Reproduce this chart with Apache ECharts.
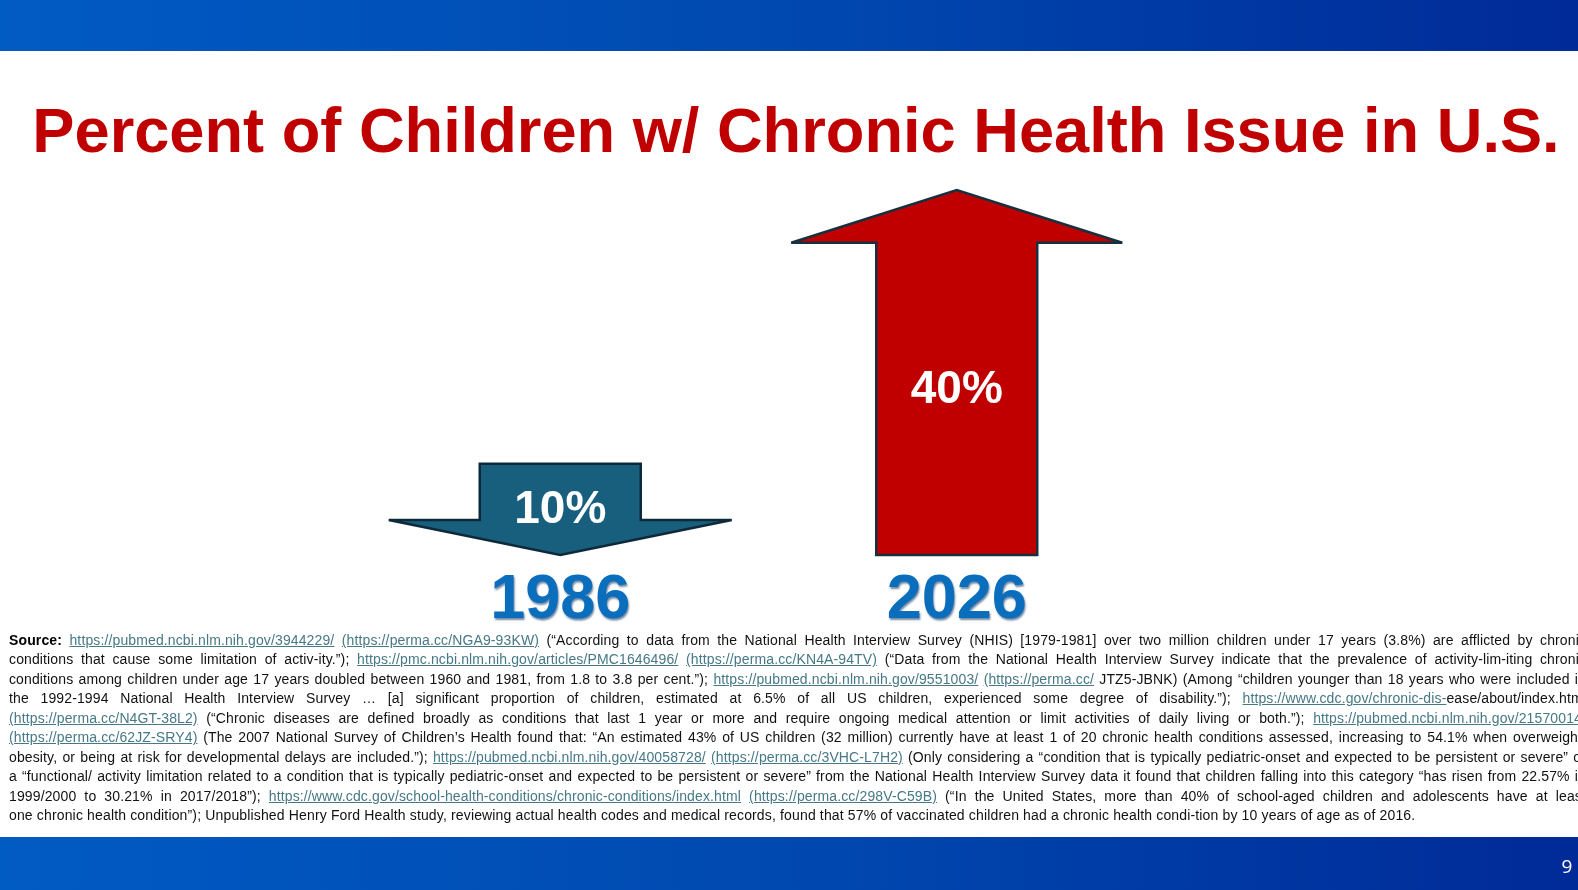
<!DOCTYPE html>
<html>
<head>
<meta charset="utf-8">
<script src="https://cdn.jsdelivr.net/npm/echarts@6/dist/echarts.min.js"></script>
<style>
  html, body { margin: 0; padding: 0; width: 1578px; height: 890px; overflow: hidden; background: #fff; }
  #chart { position: absolute; left: 0; top: 0; width: 1578px; height: 890px; }
  #source { position: absolute; left: 9px; top: 631px; width: 1577px; font-family: "Liberation Sans", Arial, sans-serif; font-size: 14px; letter-spacing: 0.15px; color: #111; }
  #source .ln { height: 19.47px; line-height: 19.47px; overflow: hidden; text-align: justify; text-align-last: justify; white-space: nowrap; }
  #source .ln.last { text-align-last: left; }
  #source a { color: #467886; text-decoration: underline; }
  #source b { color: #000; }
</style>
</head>
<body>
<div id="chart"></div>
<div id="source"></div>
<script>
// ---- data ----
const categories = ['1986', '2026'];
const percentValues = [10, 40];
const directions = ['down', 'up'];
const titleText = 'Percent of Children w/ Chronic Health Issue in U.S.';
const pageNumber = '9';
// source lines: segments [type, text]  (t = plain, l = link, b = bold)
const sourceLines = [
  [['b','Source:'],['t',' '],['l','https://pubmed.ncbi.nlm.nih.gov/3944229/'],['t',' '],['l','(https://perma.cc/NGA9-93KW)'],['t',' (“According to data from the National Health Interview Survey (NHIS) [1979-1981] over two million children under 17 years (3.8%) are afflicted by chronic']],
  [['t','conditions that cause some limitation of activ-ity.”); '],['l','https://pmc.ncbi.nlm.nih.gov/articles/PMC1646496/'],['t',' '],['l','(https://perma.cc/KN4A-94TV)'],['t',' (“Data from the National Health Interview Survey indicate that the prevalence of activity-lim-iting chronic']],
  [['t','conditions among children under age 17 years doubled between 1960 and 1981, from 1.8 to 3.8 per cent.”); '],['l','https://pubmed.ncbi.nlm.nih.gov/9551003/'],['t',' '],['l','(https://perma.cc/'],['t',' JTZ5-JBNK) (Among “children younger than 18 years who were included in']],
  [['t','the 1992-1994 National Health Interview Survey … [a] significant proportion of children, estimated at 6.5% of all US children, experienced some degree of disability.”); '],['l','https://www.cdc.gov/chronic-dis-'],['t','ease/about/index.html']],
  [['l','(https://perma.cc/N4GT-38L2)'],['t',' (“Chronic diseases are defined broadly as conditions that last 1 year or more and require ongoing medical attention or limit activities of daily living or both.”); '],['l','https://pubmed.ncbi.nlm.nih.gov/21570014/']],
  [['l','(https://perma.cc/62JZ-SRY4)'],['t',' (The 2007 National Survey of Children’s Health found that: “An estimated 43% of US children (32 million) currently have at least 1 of 20 chronic health conditions assessed, increasing to 54.1% when overweight,']],
  [['t','obesity, or being at risk for developmental delays are included.”); '],['l','https://pubmed.ncbi.nlm.nih.gov/40058728/'],['t',' '],['l','(https://perma.cc/3VHC-L7H2)'],['t',' (Only considering a “condition that is typically pediatric-onset and expected to be persistent or severe” or']],
  [['t','a “functional/ activity limitation related to a condition that is typically pediatric-onset and expected to be persistent or severe” from the National Health Interview Survey data it found that children falling into this category “has risen from 22.57% in']],
  [['t','1999/2000 to 30.21% in 2017/2018”); '],['l','https://www.cdc.gov/school-health-conditions/chronic-conditions/index.html'],['t',' '],['l','(https://perma.cc/298V-C59B)'],['t',' (“In the United States, more than 40% of school-aged children and adolescents have at least']],
  [['t','one chronic health condition”); Unpublished Henry Ford Health study, reviewing actual health codes and medical records, found that 57% of vaccinated children had a chronic health condi-tion by 10 years of age as of 2016.']]
];

// ---- source text (HTML) ----
const src = document.getElementById('source');
const W = 1577;
const baseLS = 0.15;
sourceLines.forEach(function (segs, i) {
  const d = document.createElement('div');
  d.className = 'ln' + (i === sourceLines.length - 1 ? ' last' : '');
  const inner = document.createElement('span');
  let chars = 0;
  segs.forEach(function (s) {
    let el;
    if (s[0] === 'l') { el = document.createElement('a'); }
    else if (s[0] === 'b') { el = document.createElement('b'); }
    else { el = document.createElement('span'); }
    el.textContent = s[1];
    chars += s[1].length;
    inner.appendChild(el);
  });
  d.appendChild(inner);
  src.appendChild(d);
  const natural = inner.getBoundingClientRect().width;
  if (natural > W - 4) {
    const ls = baseLS - (natural - (W - 6)) / chars;
    d.style.letterSpacing = ls.toFixed(3) + 'px';
  }
  d.style.whiteSpace = 'normal';
});

// ---- chart ----
const chart = echarts.init(document.getElementById('chart'), null, { renderer: 'canvas' });
const barGradient = function () {
  return new echarts.graphic.LinearGradient(0, 0, 1, 0, [
    { offset: 0, color: '#005bc3' },
    { offset: 0.5, color: '#0049b0' },
    { offset: 1, color: '#002a98' }
  ]);
};

const option = {
  animation: false,
  grid: { left: 362, right: 423, top: 190, bottom: 335 },
  xAxis: {
    type: 'category',
    data: categories,
    axisLine: { show: false },
    axisTick: { show: false },
    splitLine: { show: false },
    axisLabel: {
      margin: 14.5,
      color: '#0a6ebd',
      fontSize: 63,
      fontWeight: 'bold',
      fontFamily: '"Liberation Sans", Arial, sans-serif',
      textShadowColor: 'rgba(0,40,90,0.55)',
      textShadowBlur: 2,
      textShadowOffsetX: 1,
      textShadowOffsetY: 2
    }
  },
  yAxis: { type: 'value', min: 0, max: 40, show: false },
  graphic: [
    { type: 'rect', left: 0, top: 0, shape: { width: 1578, height: 51 }, style: { fill: barGradient() }, silent: true },
    { type: 'rect', left: 0, top: 837, shape: { width: 1578, height: 53 }, style: { fill: barGradient() }, silent: true },
    { type: 'text', x: 796, y: 134.5, style: { text: titleText, align: 'center', verticalAlign: 'middle', fill: '#c00000', fontSize: 63.2, fontWeight: 'bold', fontFamily: '"Liberation Sans", Arial, sans-serif' } },
    { type: 'text', x: 1567, y: 868, style: { text: pageNumber, align: 'center', verticalAlign: 'middle', fill: '#ffffff', fontSize: 19, fontFamily: '"Open Sans", sans-serif' } }
  ],
  series: [{
    type: 'custom',
    data: categories.map(function (c, i) { return [i, percentValues[i], directions[i] === 'up' ? 1 : -1]; }),
    encode: { x: 0, y: 1 },
    renderItem: function (params, api) {
      const idx = api.value(0), val = api.value(1), dir = api.value(2);
      const top = api.coord([idx, val]);
      const base = api.coord([idx, 0]);
      const band = api.size([1, 0])[0];
      const cx = base[0];
      const sw = band * 0.406 / 2;
      let pts, fill, stroke, labelY;
      if (dir > 0) {
        const hh = 52.7;
        const hw = band * 0.835 / 2;
        const yT = top[1];
        pts = [[cx - sw, base[1]], [cx - sw, yT + hh], [cx - hw, yT + hh], [cx, yT], [cx + hw, yT + hh], [cx + sw, yT + hh], [cx + sw, base[1]]];
        fill = '#c00000'; stroke = '#17303f';
        labelY = (top[1] + base[1]) / 2 + 18;
      } else {
        const hh = 35;
        const hw = band * 0.865 / 2;
        const yT = top[1];
        pts = [[cx - sw, yT], [cx + sw, yT], [cx + sw, base[1] - hh], [cx + hw, base[1] - hh], [cx, base[1]], [cx - hw, base[1] - hh], [cx - sw, base[1] - hh]];
        fill = '#185f7e'; stroke = '#0e2a3a';
        labelY = base[1] - 44.5;
      }
      return {
        type: 'group',
        children: [
          { type: 'polygon', shape: { points: pts }, style: { fill: fill, stroke: stroke, lineWidth: 2.5, lineJoin: 'miter', miterLimit: 3 } },
          { type: 'text', style: { text: val + '%', x: cx, y: labelY, align: 'center', verticalAlign: 'middle', fill: '#ffffff', fontSize: 46, fontWeight: 'bold', fontFamily: '"Liberation Sans", Arial, sans-serif' } }
        ]
      };
    }
  }]
};
chart.setOption(option);
</script>
</body>
</html>
